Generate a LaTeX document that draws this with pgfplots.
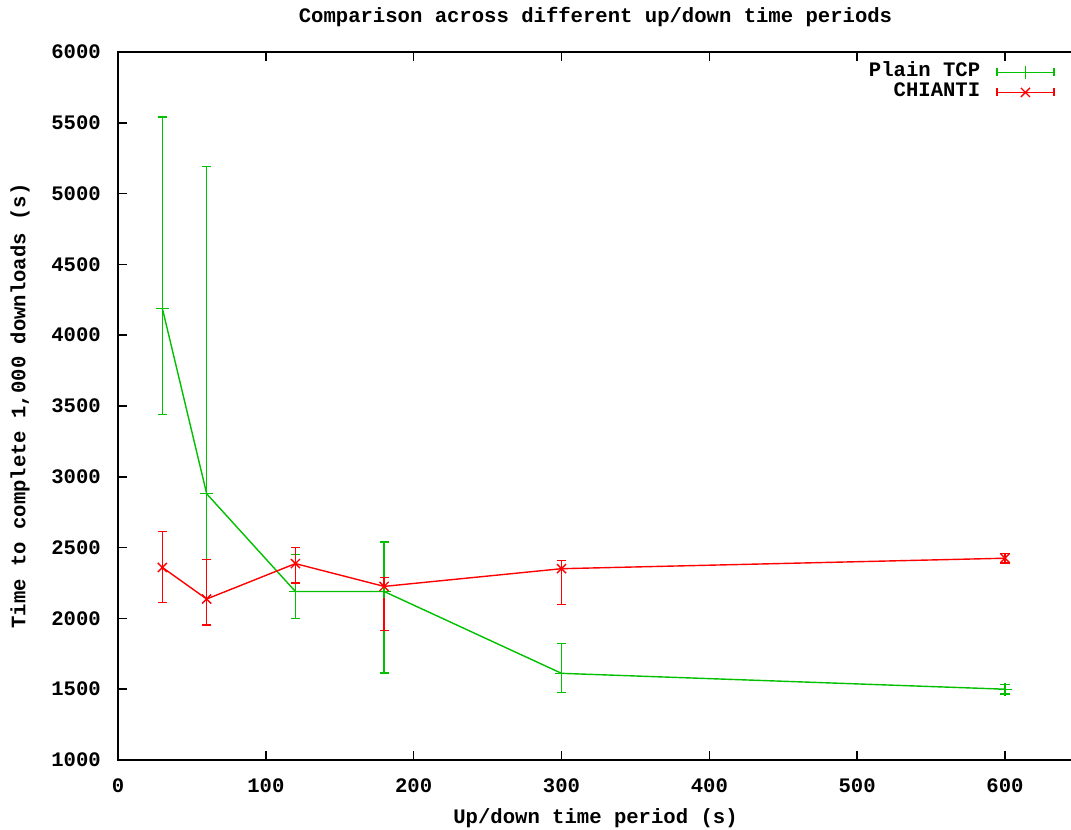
\documentclass[border=0pt]{standalone}
\usepackage{fontspec}
\setmainfont{Liberation Mono}
\usepackage{pgfplots}
\usepackage{pgfplotstable}
\pgfplotsset{compat=1.18}
\definecolor{gpgreen}{RGB}{0,192,0}
\definecolor{gpred}{RGB}{255,0,0}
\newcommand{\gpfont}{\fontsize{10.3}{12}\selectfont\bfseries}

\pgfplotstableread{
x y ep em
30 4190 1350 750
60 2880 2310 465
120 2190 260 190
180 2190 350 575
300 1612 209 137
600 1500 34 35
}\tcpdata

\pgfplotstableread{
x y ep em
30 2360 255 247
60 2137 278 184
120 2387 115 137
180 2226 64 313
300 2351 59 251
600 2425 35 35
}\chiantidata

\begin{document}
\begin{tikzpicture}[font=\gpfont]
\begin{axis}[
  scale only axis,
  width=477.5pt, height=354pt,
  xmin=0, xmax=646, ymin=1000, ymax=6000,
  xtick={0,100,...,600},
  ytick={1000,1500,...,6000},
  ytick pos=left,
  xtick pos=both,
  xticklabel pos=bottom,
  minor tick num=0,
  major tick length=4.3pt,
  tick style={black, line width=0.75pt},
  axis line style={black, line width=0.75pt},
  /pgf/number format/assume math mode=true,
  /pgf/number format/set thousands separator={},
  scaled ticks=false,
  tick label style={font=\gpfont},
  yticklabel style={xshift=-5.1pt},
  xticklabel style={yshift=-6pt},
  title={Comparison across different up/down time periods},
  every axis title/.style={at={(axis description cs:0.5,1)}, anchor=center, yshift=17.5pt, font=\gpfont},
  xlabel={Up/down time period (s)},
  ylabel={Time to complete 1,000 downloads (s)},
  every axis x label/.style={at={(axis description cs:0.5,0)}, anchor=center, yshift=-29pt, font=\gpfont},
  every axis y label/.style={at={(axis description cs:0,0.5)}, anchor=center, xshift=-49pt, rotate=90, font=\gpfont},
  legend style={at={(1,1)}, anchor=north east, xshift=-9pt, yshift=-5pt,
    draw=none, fill=none, inner sep=0pt, column sep=8pt, row sep=0pt,
    font=\gpfont, nodes={inner sep=0pt, text height=7pt, text depth=3pt}},
  legend cell align=right,
  legend plot pos=right,
  legend image code/.code={
    \draw[#1,mark=none] (0pt,0pt) -- (28.5pt,0pt);
    \draw[#1,mark=none] (0pt,-2pt) -- (0pt,2pt);
    \draw[#1,mark=none] (28.5pt,-2pt) -- (28.5pt,2pt);
    \draw[mark repeat=2,mark phase=2,#1] plot coordinates {(0pt,0pt) (14.25pt,0pt) (28.5pt,0pt)};
  },
]
\addplot[gpgreen, line width=0.7pt, mark=+, mark size=3.3pt, mark options={solid},
  error bars/.cd, y dir=both, y explicit,
  error bar style={gpgreen, line width=0.7pt},
  error mark options={gpgreen, rotate=90, mark size=2.3pt, line width=0.7pt}]
  table[x=x, y=y, y error plus=ep, y error minus=em] {\tcpdata};
\addlegendentry{Plain TCP}
\addplot[gpred, line width=0.7pt, mark=x, mark size=3.2pt, mark options={solid},
  error bars/.cd, y dir=both, y explicit,
  error bar style={gpred, line width=0.7pt},
  error mark options={gpred, rotate=90, mark size=2.3pt, line width=0.7pt}]
  table[x=x, y=y, y error plus=ep, y error minus=em] {\chiantidata};
\addlegendentry{CHIANTI}
\end{axis}
\pgfresetboundingbox
\path[use as bounding box] ([shift={(-59pt,-35pt)}]current axis.south west) rectangle ([shift={(-1pt,26pt)}]current axis.north east);
\end{tikzpicture}
\end{document}
